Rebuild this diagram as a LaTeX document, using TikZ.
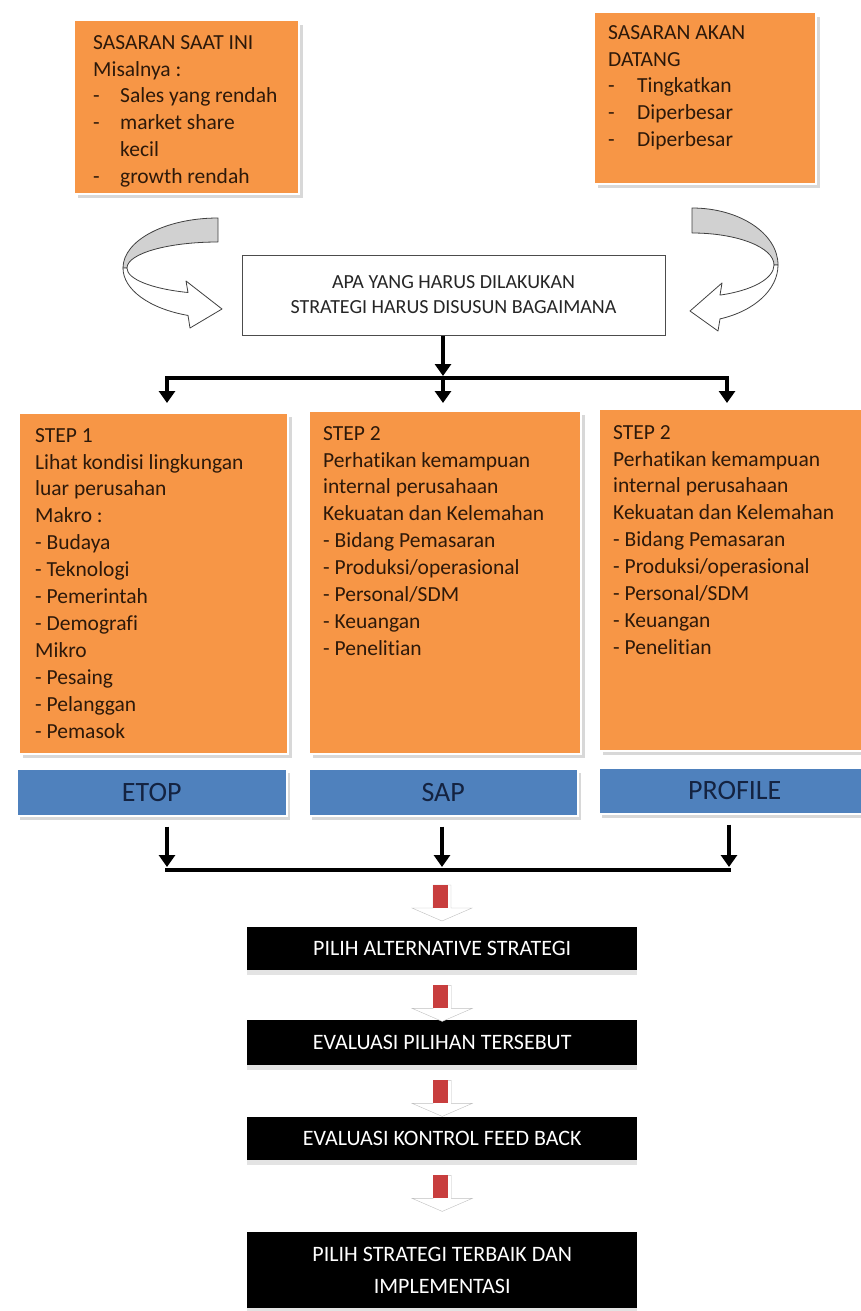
\documentclass[tikz,border=0pt]{standalone}
\usepackage{fontspec}
\setmainfont{Carlito}[Ligatures=NoCommon]
\usetikzlibrary{positioning,arrows.meta,shadows}
\definecolor{boxorange}{RGB}{247,150,70}
\definecolor{barblue}{RGB}{79,129,189}
\definecolor{arrowred}{RGB}{200,62,62}
\definecolor{inkbrown}{RGB}{45,25,10}
\definecolor{inknavy}{RGB}{20,35,65}

\begin{document}
\begin{tikzpicture}[x=1pt,y=-1pt,
  obox/.style={fill=boxorange, draw=white, line width=1.5pt, anchor=north west, inner sep=0pt,
    drop shadow={shadow xshift=4pt, shadow yshift=-4pt, fill=black!30}},
  otext/.style={inner sep=0pt, align=left, text=inkbrown, font=\fontsize{21.5}{26.9}\selectfont},
  bbar/.style={fill=barblue, draw=white, line width=1.5pt, anchor=north west, inner sep=0pt,
    text=inknavy, font=\fontsize{28}{30}\selectfont,
    drop shadow={shadow xshift=3pt, shadow yshift=-4pt, fill=black!30}},
  kbox/.style={fill=black, text=white, anchor=north west, inner sep=0pt, align=center,
    font=\fontsize{22}{32}\selectfont,
    drop shadow={shadow xshift=0pt, shadow yshift=-5pt, fill=black!22}},
  bus/.style={line width=4pt, line cap=rect},
  busarrow/.style={line width=4pt, -{Triangle[width=16pt,length=12pt]}},
  curl/.style={draw=black!75, line width=0.8pt, line join=round}]
\useasboundingbox (0,0) rectangle (861,1311);

\node [obox, minimum width=225pt, minimum height=173pt] (sNow) at (73,20) {};
\node [otext, below right=15pt and 20pt of sNow.north west] (sNowTxt)
  {SASARAN SAAT INI\\Misalnya :\\\makebox[27pt][l]{-}Sales yang rendah\\
   \makebox[27pt][l]{-}market share\\\hspace*{27pt}kecil\\\makebox[27pt][l]{-}growth rendah};
\node [obox, minimum width=222pt, minimum height=171pt] (sNext) at (593,12) {};
\node [otext, below right=13pt and 15pt of sNext.north west] (sNextTxt)
  {SASARAN AKAN\\DATANG\\\makebox[29pt][l]{-}Tingkatkan\\
   \makebox[29pt][l]{-}Diperbesar\\\makebox[29pt][l]{-}Diperbesar};

\node [draw=black!70, line width=1pt, fill=white, minimum width=423pt, minimum height=80pt,
  align=center, text=black!85, font=\fontsize{20}{25}\selectfont] (apa) at (453.5,295)
  {APA YANG HARUS DILAKUKAN\\STRATEGI HARUS DISUSUN BAGAIMANA};

\filldraw [curl, fill=black!18] (218,218) arc[start angle=90, end angle=180, x radius=95pt, y radius=50pt]
  -- (127,268) arc[start angle=180, end angle=90, x radius=91pt, y radius=26pt] -- cycle;
\filldraw [curl, fill=white] (123,268) arc[start angle=180, end angle=251.6, x radius=95pt, y radius=50pt]
  -- (190,328) -- (222,309) -- (186,281) -- (188,292.5)
  arc[start angle=250.8, end angle=180, x radius=91pt, y radius=26pt] -- cycle;
\filldraw [curl, fill=black!18] (692,208) arc[start angle=90, end angle=0, x radius=86pt, y radius=57pt]
  -- (774,265) arc[start angle=0, end angle=90, x radius=82pt, y radius=32pt] -- cycle;
\filldraw [curl, fill=white] (778,265) arc[start angle=0, end angle=-71, x radius=86pt, y radius=57pt]
  -- (718,331) -- (690,311) -- (722,283) -- (720,295.1)
  arc[start angle=-70.03, end angle=0, x radius=82pt, y radius=32pt] -- cycle;

\node [obox, minimum width=269pt, minimum height=341pt] (step1) at (18,412) {};
\node [otext, below right=16pt and 17pt of step1.north west] (step1Txt)
  {STEP 1\\Lihat kondisi lingkungan\\luar perusahan\\Makro :\\- Budaya\\- Teknologi\\
   - Pemerintah\\- Demografi\\Mikro\\- Pesaing\\- Pelanggan\\- Pemasok};
\node [obox, minimum width=272pt, minimum height=343pt] (step2) at (308,410) {};
\node [otext, below right=16pt and 15pt of step2.north west] (step2Txt)
  {STEP 2\\Perhatikan kemampuan\\internal perusahaan\\Kekuatan dan Kelemahan\\
   - Bidang Pemasaran\\- Produksi/operasional\\- Personal/SDM\\- Keuangan\\- Penelitian};
\node [obox, minimum width=272pt, minimum height=342pt] (step3) at (598,408) {};
\node [otext, below right=17pt and 15pt of step3.north west] (step3Txt)
  {STEP 2\\Perhatikan kemampuan\\internal perusahaan\\Kekuatan dan Kelemahan\\
   - Bidang Pemasaran\\- Produksi/operasional\\- Personal/SDM\\- Keuangan\\- Penelitian};

\node [bbar, minimum width=270pt, minimum height=47pt] (etop) at (16,768) {ETOP};
\node [bbar, minimum width=269pt, minimum height=47pt] (sap) at (308,768) {SAP};
\node [bbar, minimum width=272pt, minimum height=46pt] (profile) at (598,767) {PROFILE};

\node [kbox, minimum width=390pt, minimum height=43pt] (alt) at (247,927) {PILIH ALTERNATIVE STRATEGI};
\node [kbox, minimum width=390pt, minimum height=45pt] (eval) at (247,1020) {EVALUASI PILIHAN TERSEBUT};
\node [kbox, minimum width=390pt, minimum height=43pt] (kontrol) at (247,1117) {EVALUASI KONTROL FEED BACK};
\node [kbox, minimum width=390pt, minimum height=76pt] (impl) at (247,1232)
  {PILIH STRATEGI TERBAIK DAN\\IMPLEMENTASI};

\coordinate (t1) at (167,378);
\coordinate (t2) at (443,378);
\coordinate (t3) at (727,378);
\draw [busarrow, shorten >=2pt] (apa.south -| t2) -- (t2);
\draw [bus] (t1) -- (t3);
\draw [busarrow, shorten >=9pt] (t1) -- (t1 |- step1.north);
\draw [busarrow, shorten >=7pt] (t2) -- (t2 |- step2.north);
\draw [busarrow, shorten >=5pt] (t3) -- (t3 |- step3.north);

\coordinate (b1) at (167,870);
\coordinate (b2) at (442,870);
\coordinate (b3) at (729,870);
\draw [busarrow, shorten <=10pt, shorten >=3pt] (b1 |- etop.south) -- (b1);
\draw [busarrow, shorten <=10pt, shorten >=3pt] (b2 |- sap.south) -- (b2);
\draw [busarrow, shorten <=10pt, shorten >=3pt] (b3 |- profile.south) -- (b3);
\draw [bus] (b1) -- (b3);

\foreach \up in {b2,alt.south,eval.south,kontrol.south} {
  \path (\up) ++(0,15) coordinate (ra) ++(0,23) coordinate (rb) ++(0,13) coordinate (rc);
  \draw [black!25, fill=white] ([xshift=-9pt]ra) -- ([xshift=-9pt]rb) -- ([xshift=-30pt]rb) -- (rc)
    -- ([xshift=30pt]rb) -- ([xshift=9pt]rb) -- ([xshift=9pt]ra) -- cycle;
  \fill [arrowred] ([xshift=-9pt]ra) rectangle ([xshift=6pt]rb);
}
\end{tikzpicture}
\end{document}
